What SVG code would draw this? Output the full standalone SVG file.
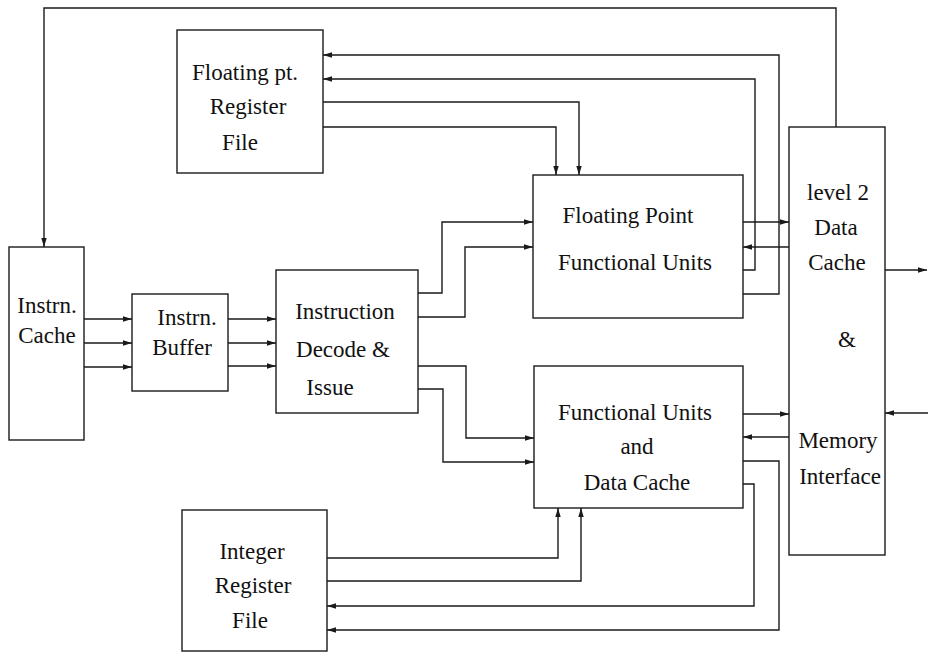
<svg xmlns="http://www.w3.org/2000/svg" width="928" height="654" viewBox="0 0 928 654">
<defs>
<style>
.box{fill:#fff;stroke:#1a1a1a;stroke-width:1.4}
.ln{fill:none;stroke:#1a1a1a;stroke-width:1.4}
.ar{marker-end:url(#ah)}
text{font-family:"Liberation Serif","Times New Roman",serif;font-size:23px;fill:#111;text-anchor:middle}
</style>
<marker id="ah" viewBox="0 0 10 6" refX="10" refY="3" markerWidth="9" markerHeight="5.4" markerUnits="userSpaceOnUse" orient="auto"><path d="M0,0 L10,3 L0,6 z" fill="#1a1a1a"/></marker>
</defs>
<rect width="928" height="654" fill="#fff"/>
<g id="connectors">
<path class="ln ar" d="M836,127 V8 H44 V247"/>
<path class="ln ar" d="M84,319 H132"/>
<path class="ln ar" d="M84,343 H132"/>
<path class="ln ar" d="M84,367 H132"/>
<path class="ln ar" d="M228,319 H276"/>
<path class="ln ar" d="M228,343 H276"/>
<path class="ln ar" d="M228,366 H276"/>
<path class="ln ar" d="M418,293 H442 V222 H533"/>
<path class="ln ar" d="M418,317 H465 V247 H533"/>
<path class="ln ar" d="M418,366 H466 V438 H534"/>
<path class="ln ar" d="M418,389 H443 V462 H534"/>
<path class="ln ar" d="M323,102 H579 V175"/>
<path class="ln ar" d="M323,127 H556 V175"/>
<path class="ln ar" d="M743,270 H755 V79 H323"/>
<path class="ln ar" d="M743,294 H779 V55 H323"/>
<path class="ln ar" d="M743,222 H789"/>
<path class="ln ar" d="M789,247 H743"/>
<path class="ln ar" d="M743,414 H789"/>
<path class="ln ar" d="M789,437 H743"/>
<path class="ln ar" d="M743,461 H779 V630 H327"/>
<path class="ln ar" d="M743,484 H754 V606 H327"/>
<path class="ln ar" d="M327,558 H558 V508"/>
<path class="ln ar" d="M327,581 H581 V508"/>
<path class="ln ar" d="M885,270 H927"/>
<path class="ln ar" d="M928,413 H885"/>
</g>
<g id="instr-cache">
<rect class="box" x="9" y="247" width="75" height="193"/>
<text x="47" y="313">Instrn.</text>
<text x="47" y="343">Cache</text>
</g>
<g id="instr-buffer">
<rect class="box" x="132" y="294" width="96" height="97"/>
<text x="187" y="325">Instrn.</text>
<text x="182" y="355">Buffer</text>
</g>
<g id="decode-issue">
<rect class="box" x="276" y="270" width="142" height="143"/>
<text x="345" y="319">Instruction</text>
<text x="343" y="357">Decode &amp;</text>
<text x="330" y="395">Issue</text>
</g>
<g id="fp-register-file">
<rect class="box" x="177" y="30" width="146" height="143"/>
<text x="245" y="80">Floating pt.</text>
<text x="248" y="114">Register</text>
<text x="240" y="150">File</text>
</g>
<g id="fp-functional-units">
<rect class="box" x="533" y="175" width="210" height="143"/>
<text x="628" y="223">Floating Point</text>
<text x="635" y="270">Functional Units</text>
</g>
<g id="functional-units-data-cache">
<rect class="box" x="534" y="366" width="209" height="142"/>
<text x="635" y="420">Functional Units</text>
<text x="637" y="454">and</text>
<text x="637" y="490">Data Cache</text>
</g>
<g id="level2-cache">
<rect class="box" x="789" y="127" width="96" height="428"/>
<text x="838" y="200">level 2</text>
<text x="836" y="235">Data</text>
<text x="837" y="270">Cache</text>
<text x="847" y="347">&amp;</text>
<text x="838" y="448">Memory</text>
<text x="840" y="484">Interface</text>
</g>
<g id="integer-register-file">
<rect class="box" x="182" y="510" width="145" height="141"/>
<text x="252" y="559">Integer</text>
<text x="253" y="593">Register</text>
<text x="250" y="628">File</text>
</g>
</svg>
